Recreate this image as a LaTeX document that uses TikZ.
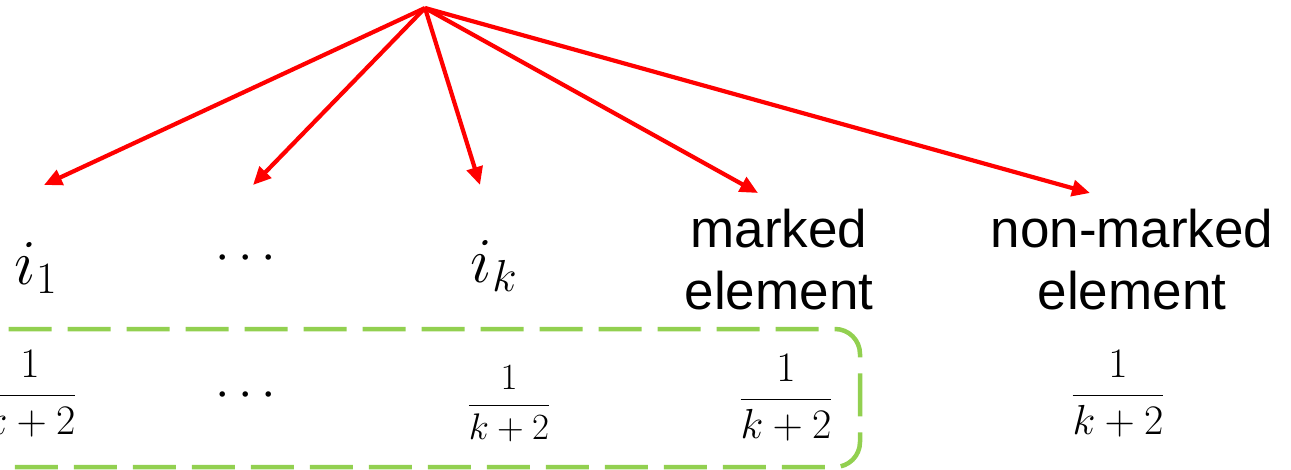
\documentclass[tikz,border=0pt]{standalone}
\usepackage{fix-cm}
\usepackage{amsmath}
\usepackage{fontspec}
\newfontfamily\arialfont{Liberation Sans}
\usetikzlibrary{arrows.meta}

\begin{document}
\begin{tikzpicture}[x=1pt, y=-1pt, every node/.style={inner sep=0pt},
  arr/.style={draw=red, line width=4.2pt, -{Triangle[length=18pt,width=16pt]}},
  lbl/.style={font=\arialfont\fontsize{53}{62}\selectfont, align=center, anchor=south},
  sym/.style={font=\fontsize{64}{74}\selectfont},
  dotrow/.style={font=\fontsize{52}{60}\selectfont},
  frac/.style={font=\fontsize{42}{50}\selectfont}]
\useasboundingbox (0,0) rectangle (1291,469);
\coordinate (top) at (425,8);
\coordinate (t1) at (44,185);
\coordinate (t2) at (253,185);
\coordinate (t3) at (480,185);
\coordinate (t4) at (758,193);
\coordinate (t5) at (1090,193);
\node[sym] (i1) at (36,268) {$i_1$};
\node[dotrow] (dots1) at (250,259) {$\cdots$};
\node[sym] (ik) at (494,266) {$i_k$};
\node[lbl] (marked) at (779,310) {marked\\element};
\node[lbl] (nonmarked) at (1132,310) {non-marked\\element};
\node[frac] (f1) at (30,394) {$\dfrac{1}{k+2}$};
\node[dotrow] (dots2) at (250,396) {$\cdots$};
\node[font=\fontsize{37}{44}\selectfont] (fk) at (509,404) {$\dfrac{1}{k+2}$};
\node[frac] (fm) at (786,398) {$\dfrac{1}{k+2}$};
\node[frac] (fn) at (1118,394) {$\dfrac{1}{k+2}$};
\draw[draw={rgb,255:red,146;green,208;blue,80}, line width=4.5pt, dash pattern=on 43pt off 16pt, rounded corners=25pt] (-60,329) rectangle (860,467);
\draw[arr] (top) -- (t1);
\draw[arr] (top) -- (t2);
\draw[arr] (top) -- (t3);
\draw[arr] (top) -- (t4);
\draw[arr] (top) -- (t5);
\end{tikzpicture}
\end{document}
